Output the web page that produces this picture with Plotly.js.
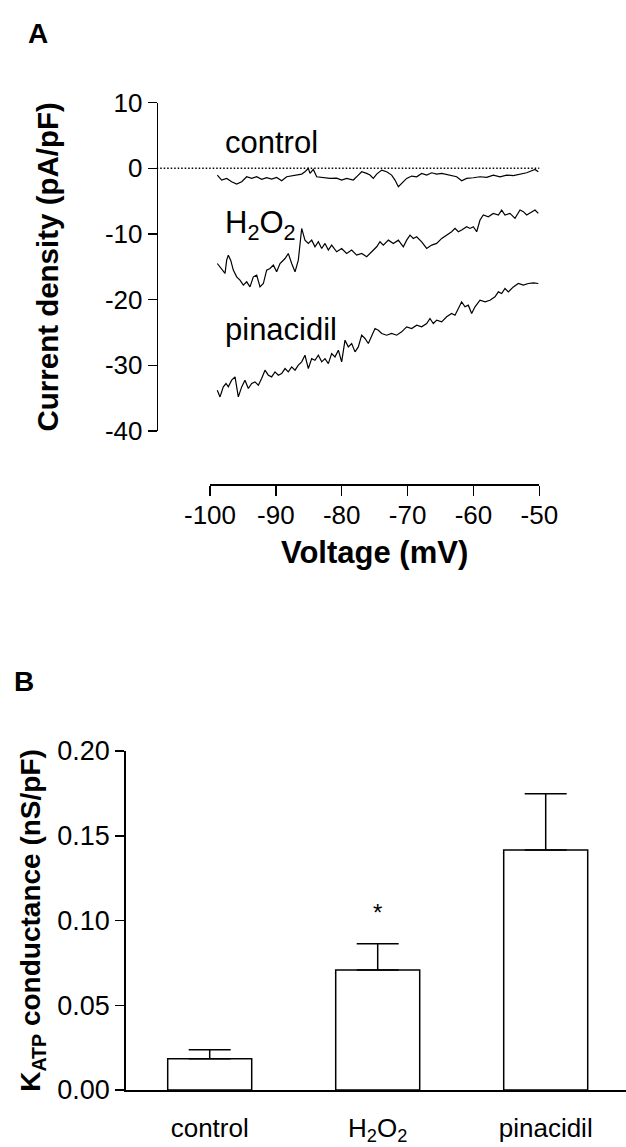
<!DOCTYPE html>
<html>
<head>
<meta charset="utf-8">
<script src="https://cdn.plot.ly/plotly-3.0.1.min.js"></script>
<style>html,body{margin:0;padding:0;background:#fff;}#chart{width:626px;height:1147px;}</style>
</head>
<body>
<div id="chart"></div>
<script>
// Panel A: current density traces (mV, pA/pF)
const controlV = [-98.89,-98.23,-97.47,-96.71,-95.95,-95.19,-94.43,-93.67,-92.91,-92.16,-91.40,-90.64,-89.88,-89.12,-88.36,-87.60,-86.84,-86.08,-85.58,-85.07,-84.82,-84.31,-83.80,-82.79,-81.78,-80.77,-80.01,-79.25,-78.24,-77.48,-76.97,-76.21,-75.71,-75.20,-74.69,-73.93,-73.18,-72.42,-71.91,-71.40,-70.90,-70.14,-69.38,-68.62,-67.86,-67.10,-66.34,-65.58,-64.82,-64.07,-63.31,-62.55,-61.79,-61.03,-60.02,-59.00,-57.99,-56.98,-55.97,-54.95,-53.94,-52.93,-51.92,-51.16,-50.65,-50.15];
const controlI = [-1.02,-1.78,-1.53,-2.04,-2.39,-2.04,-1.28,-1.53,-1.28,-1.68,-1.43,-1.63,-1.38,-1.89,-1.28,-1.17,-1.02,-0.87,-0.51,-0.01,-0.77,-0.16,-1.28,-1.38,-1.53,-1.48,-1.78,-1.53,-1.78,-1.02,-0.51,-0.77,-1.02,-1.53,-0.87,-0.26,-0.51,-1.02,-1.78,-2.80,-2.29,-1.53,-1.17,-1.28,-0.77,-1.02,-0.67,-0.87,-0.77,-0.92,-1.02,-1.28,-1.89,-1.53,-1.43,-1.28,-1.38,-1.02,-1.28,-1.02,-1.12,-0.92,-0.67,-0.36,-0.16,-0.51];

const h2o2V = [-98.89,-98.48,-98.08,-97.72,-97.47,-97.22,-96.86,-96.46,-95.95,-95.45,-94.94,-94.43,-93.93,-93.42,-92.91,-92.41,-91.90,-91.40,-90.89,-90.38,-89.88,-89.37,-88.61,-88.11,-87.60,-87.09,-86.59,-86.08,-85.58,-85.07,-84.56,-84.06,-83.55,-83.04,-82.54,-82.03,-81.53,-80.77,-80.01,-79.25,-78.49,-77.73,-76.97,-76.21,-75.45,-74.69,-74.19,-73.68,-72.92,-72.16,-71.40,-70.65,-70.14,-69.63,-69.13,-68.62,-67.86,-67.10,-66.34,-65.58,-64.82,-64.07,-63.31,-62.80,-62.29,-61.79,-61.03,-60.52,-60.02,-59.51,-59.00,-58.50,-57.74,-56.98,-56.22,-55.71,-55.21,-54.45,-53.69,-52.93,-52.42,-51.92,-51.16,-50.65,-50.15];
const h2o2I = [-14.49,-14.99,-15.50,-16.01,-13.98,-13.22,-13.98,-15.50,-16.52,-17.02,-17.79,-17.28,-18.05,-16.52,-16.26,-18.05,-17.54,-15.50,-15.25,-14.74,-15.76,-14.49,-13.73,-12.97,-14.49,-15.76,-13.98,-9.15,-10.93,-11.43,-10.93,-11.94,-11.18,-12.20,-11.43,-12.45,-11.69,-12.70,-12.20,-12.96,-12.45,-13.21,-12.96,-13.46,-12.70,-11.94,-11.18,-11.69,-10.93,-11.43,-10.93,-11.94,-10.93,-10.17,-10.67,-10.41,-11.18,-12.20,-11.69,-11.43,-10.67,-10.17,-9.65,-9.15,-9.65,-9.40,-8.89,-9.15,-8.89,-9.65,-7.87,-7.11,-7.37,-6.86,-7.11,-6.35,-7.11,-6.86,-7.62,-6.35,-6.60,-7.11,-6.60,-6.35,-6.86];

const pinV = [-98.89,-98.48,-97.98,-97.57,-97.22,-96.71,-96.20,-95.70,-95.19,-94.69,-94.18,-93.67,-93.17,-92.66,-92.16,-91.65,-91.14,-90.64,-90.13,-89.62,-89.12,-88.61,-88.11,-87.60,-87.09,-86.59,-86.08,-85.58,-85.07,-84.56,-84.06,-83.55,-83.04,-82.54,-82.03,-81.53,-81.02,-80.51,-80.01,-79.50,-79.00,-78.49,-77.98,-77.48,-76.97,-76.47,-75.96,-75.45,-74.95,-74.44,-73.93,-73.18,-72.42,-71.66,-70.90,-70.14,-69.38,-68.62,-67.86,-67.10,-66.60,-66.09,-65.58,-64.82,-64.07,-63.31,-62.80,-62.29,-61.79,-61.28,-60.78,-60.27,-59.76,-59.00,-58.24,-57.49,-56.73,-56.22,-55.71,-55.21,-54.70,-53.94,-53.18,-52.42,-51.67,-50.91,-50.15];
const pinI = [-33.79,-34.81,-33.28,-32.77,-33.28,-32.26,-31.76,-34.81,-33.28,-32.26,-33.53,-32.77,-32.52,-33.02,-32.00,-30.74,-31.50,-31.76,-31.00,-31.50,-31.25,-30.49,-31.00,-30.23,-30.74,-29.97,-29.47,-28.46,-30.49,-28.98,-29.22,-28.46,-29.47,-28.98,-29.73,-28.20,-28.71,-27.69,-29.47,-26.17,-27.19,-26.68,-27.95,-27.19,-25.41,-25.91,-26.68,-25.41,-24.39,-24.65,-25.15,-25.41,-25.15,-25.41,-24.90,-24.14,-24.39,-23.88,-24.14,-23.63,-22.87,-23.63,-23.12,-23.37,-22.61,-22.10,-22.36,-21.34,-20.33,-21.09,-20.84,-22.10,-21.09,-20.08,-20.33,-20.08,-19.57,-18.81,-19.06,-18.30,-18.81,-18.05,-17.54,-17.79,-17.54,-17.43,-17.54];

const traceLabels = ['control', 'H<sub>2</sub>O<sub>2</sub>', 'pinacidil'];
const labelV = [-98.0, -98.0, -98.0];
const labelI = [4.0, -8.6, -24.6];

const voltTicks = [-100, -90, -80, -70, -60, -50];
const voltTickText = ['-100', '-90', '-80', '-70', '-60', '-50'];
const currTicks = [-40, -30, -20, -10, 0, 10];
const currTickText = ['-40', '-30', '-20', '-10', '0', '10'];

// Panel B: KATP conductance (nS/pF)
const categories = ['control', 'H<sub>2</sub>O<sub>2</sub>', 'pinacidil'];
const conductance = [0.0185, 0.0708, 0.1416];
const sem = [0.0053, 0.0155, 0.0332];
const zeros = [0, 0, 0];
const condTicks = [0, 0.05, 0.10, 0.15, 0.20];
const starCategory = 'H<sub>2</sub>O<sub>2</sub>';
const starY = 0.105;

const W = 626, H = 1147;
const px = v => v / W;
const py = v => 1 - v / H;
const FONT = 'Arial, "Liberation Sans", sans-serif';
const line = {color: '#000', width: 1.2};

const traces = [
  {x: controlV, y: controlI, type: 'scatter', mode: 'lines', line: line, xaxis: 'x', yaxis: 'y', hoverinfo: 'skip'},
  {x: h2o2V, y: h2o2I, type: 'scatter', mode: 'lines', line: line, xaxis: 'x', yaxis: 'y', hoverinfo: 'skip'},
  {x: pinV, y: pinI, type: 'scatter', mode: 'lines', line: line, xaxis: 'x', yaxis: 'y', hoverinfo: 'skip'},
  {x: categories, y: conductance, type: 'bar', xaxis: 'x2', yaxis: 'y2', width: 0.5,
   marker: {color: '#fff', line: {color: '#000', width: 1.5}},
   error_y: {type: 'data', symmetric: false, array: sem, arrayminus: zeros, color: '#000', thickness: 1.5, width: 21},
   hoverinfo: 'skip'}
];

const annotations = traceLabels.map((t, i) => ({
  x: labelV[i], y: labelI[i], xref: 'x', yref: 'y', text: t, showarrow: false,
  xanchor: 'left', yanchor: 'middle', font: {family: FONT, size: 31, color: '#000'}
}));
annotations.push({x: starCategory, y: starY, xref: 'x2', yref: 'y2', text: '*', showarrow: false,
  xanchor: 'center', yanchor: 'middle', font: {family: FONT, size: 24, color: '#000'}});
annotations.push({x: px(26), y: py(33), xref: 'paper', yref: 'paper', text: '<b>A</b>', showarrow: false,
  xanchor: 'left', yanchor: 'middle', font: {family: FONT, size: 28, color: '#000'}});
annotations.push({x: px(12), y: py(681), xref: 'paper', yref: 'paper', text: '<b>B</b>', showarrow: false,
  xanchor: 'left', yanchor: 'middle', font: {family: FONT, size: 28, color: '#000'}});

const layout = {
  width: W, height: H,
  margin: {l: 0, r: 0, t: 0, b: 0},
  paper_bgcolor: '#fff', plot_bgcolor: 'rgba(0,0,0,0)',
  showlegend: false,
  font: {family: FONT, color: '#000'},
  xaxis: {
    domain: [px(210), px(539.3)], range: [-100, -50], anchor: 'free', position: py(484),
    showline: true, linewidth: 1.5, linecolor: '#000', ticks: 'outside', ticklen: 10, tickwidth: 1.5, tickcolor: '#000',
    tickmode: 'array', tickvals: voltTicks, ticktext: voltTickText, showgrid: false, zeroline: false,
    tickfont: {family: FONT, size: 26, color: '#000'}, ticklabelstandoff: -3,
    title: {text: '<b>Voltage (mV)</b>', font: {family: FONT, size: 31, color: '#000'}, standoff: 12}
  },
  yaxis: {
    domain: [py(431), py(102.7)], range: [-40, 10], anchor: 'free', position: px(156.7),
    showline: true, linewidth: 1.5, linecolor: '#000', ticks: 'outside', ticklen: 9, tickwidth: 1.5, tickcolor: '#000',
    tickmode: 'array', tickvals: currTicks, ticktext: currTickText, showgrid: false, zeroline: false,
    tickfont: {family: FONT, size: 26, color: '#000'},
    title: {text: '<b>Current density (pA/pF)</b>', font: {family: FONT, size: 29.5, color: '#000'}, standoff: 36}
  },
  xaxis2: {
    domain: [px(125.7), 1], range: [-0.5, 2.478], anchor: 'y2', type: 'category',
    showline: true, linewidth: 1.5, linecolor: '#000', ticks: '', showgrid: false, zeroline: false,
    tickfont: {family: FONT, size: 26, color: '#000'}, ticklabelstandoff: 14
  },
  yaxis2: {
    domain: [py(1090), py(751)], range: [0, 0.2], anchor: 'x2',
    showline: true, linewidth: 1.5, linecolor: '#000', ticks: 'outside', ticklen: 9, tickwidth: 1.5, tickcolor: '#000',
    tickmode: 'array', tickvals: condTicks, tickformat: '.2f', showgrid: false, zeroline: false,
    tickfont: {family: FONT, size: 27, color: '#000'},
    title: {text: '<b>K<sub>ATP</sub> conductance (nS/pF)</b>', font: {family: FONT, size: 28, color: '#000'}, standoff: 8}
  },
  shapes: [
    {type: 'line', xref: 'paper', yref: 'y', x0: px(156.7), x1: px(539.3), y0: 0, y1: 0,
     line: {color: '#000', width: 1.5, dash: '1.5px,2px'}}
  ],
  annotations: annotations
};

Plotly.newPlot('chart', traces, layout, {displayModeBar: false, staticPlot: true});
</script>
</body>
</html>
